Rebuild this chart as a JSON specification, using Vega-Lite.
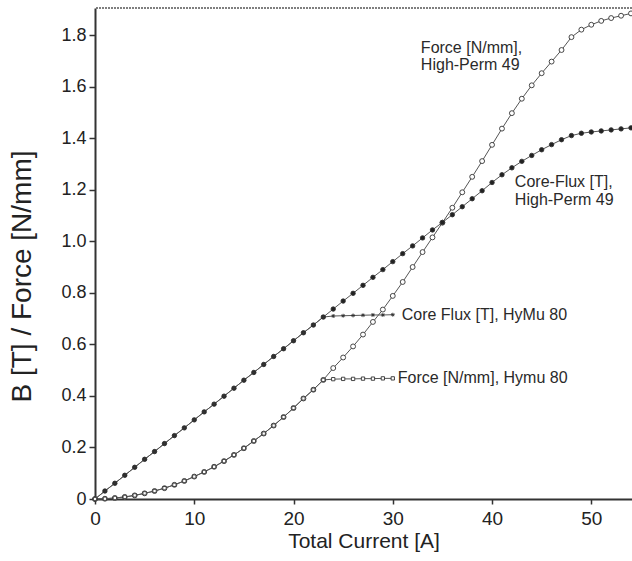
{
  "$schema": "https://vega.github.io/schema/vega-lite/v6.json",
  "width": 537,
  "height": 491,
  "autosize": {"type": "none"},
  "padding": {"left": 95, "top": 8, "right": 0, "bottom": 62},
  "background": "white",
  "config": {
    "view": {"stroke": null},
    "font": "Liberation Sans",
    "axis": {
      "grid": false,
      "domainColor": "#333",
      "domainWidth": 2,
      "tickColor": "#333",
      "tickWidth": 1.5,
      "labelFont": "Liberation Sans",
      "labelColor": "#222",
      "titleFont": "Liberation Sans",
      "titleColor": "#222",
      "titleFontWeight": "normal"
    }
  },
  "datasets": {
    "curves": [
      {"s": "F49", "x": 0, "y": 0}, {"s": "F49", "x": 1, "y": 0.001}, {"s": "F49", "x": 2, "y": 0.004}, {"s": "F49", "x": 3, "y": 0.008}, {"s": "F49", "x": 4, "y": 0.014}, {"s": "F49", "x": 5, "y": 0.022}, {"s": "F49", "x": 6, "y": 0.031}, {"s": "F49", "x": 7, "y": 0.042}, {"s": "F49", "x": 8, "y": 0.055}, {"s": "F49", "x": 9, "y": 0.07}, {"s": "F49", "x": 10, "y": 0.087}, {"s": "F49", "x": 11, "y": 0.105}, {"s": "F49", "x": 12, "y": 0.125}, {"s": "F49", "x": 13, "y": 0.147}, {"s": "F49", "x": 14, "y": 0.171}, {"s": "F49", "x": 15, "y": 0.197}, {"s": "F49", "x": 16, "y": 0.225}, {"s": "F49", "x": 17, "y": 0.254}, {"s": "F49", "x": 18, "y": 0.285}, {"s": "F49", "x": 19, "y": 0.318}, {"s": "F49", "x": 20, "y": 0.353}, {"s": "F49", "x": 21, "y": 0.39}, {"s": "F49", "x": 22, "y": 0.424}, {"s": "F49", "x": 23, "y": 0.462}, {"s": "F49", "x": 24, "y": 0.508}, {"s": "F49", "x": 25, "y": 0.549}, {"s": "F49", "x": 26, "y": 0.592}, {"s": "F49", "x": 27, "y": 0.638}, {"s": "F49", "x": 28, "y": 0.687}, {"s": "F49", "x": 29, "y": 0.735}, {"s": "F49", "x": 30, "y": 0.788}, {"s": "F49", "x": 31, "y": 0.842}, {"s": "F49", "x": 32, "y": 0.9}, {"s": "F49", "x": 33, "y": 0.958}, {"s": "F49", "x": 34, "y": 1.015}, {"s": "F49", "x": 35, "y": 1.072}, {"s": "F49", "x": 36, "y": 1.13}, {"s": "F49", "x": 37, "y": 1.19}, {"s": "F49", "x": 38, "y": 1.25}, {"s": "F49", "x": 39, "y": 1.311}, {"s": "F49", "x": 40, "y": 1.374}, {"s": "F49", "x": 41, "y": 1.437}, {"s": "F49", "x": 42, "y": 1.497}, {"s": "F49", "x": 43, "y": 1.553}, {"s": "F49", "x": 44, "y": 1.605}, {"s": "F49", "x": 45, "y": 1.652}, {"s": "F49", "x": 46, "y": 1.697}, {"s": "F49", "x": 47, "y": 1.742}, {"s": "F49", "x": 48, "y": 1.792}, {"s": "F49", "x": 49, "y": 1.821}, {"s": "F49", "x": 50, "y": 1.84}, {"s": "F49", "x": 51, "y": 1.855}, {"s": "F49", "x": 52, "y": 1.866}, {"s": "F49", "x": 53, "y": 1.875}, {"s": "F49", "x": 54, "y": 1.884},
      {"s": "B49", "x": 0, "y": 0}, {"s": "B49", "x": 1, "y": 0.031}, {"s": "B49", "x": 2, "y": 0.061}, {"s": "B49", "x": 3, "y": 0.092}, {"s": "B49", "x": 4, "y": 0.123}, {"s": "B49", "x": 5, "y": 0.154}, {"s": "B49", "x": 6, "y": 0.184}, {"s": "B49", "x": 7, "y": 0.215}, {"s": "B49", "x": 8, "y": 0.246}, {"s": "B49", "x": 9, "y": 0.276}, {"s": "B49", "x": 10, "y": 0.307}, {"s": "B49", "x": 11, "y": 0.338}, {"s": "B49", "x": 12, "y": 0.368}, {"s": "B49", "x": 13, "y": 0.399}, {"s": "B49", "x": 14, "y": 0.43}, {"s": "B49", "x": 15, "y": 0.461}, {"s": "B49", "x": 16, "y": 0.491}, {"s": "B49", "x": 17, "y": 0.522}, {"s": "B49", "x": 18, "y": 0.553}, {"s": "B49", "x": 19, "y": 0.583}, {"s": "B49", "x": 20, "y": 0.614}, {"s": "B49", "x": 21, "y": 0.645}, {"s": "B49", "x": 22, "y": 0.675}, {"s": "B49", "x": 23, "y": 0.706}, {"s": "B49", "x": 24, "y": 0.737}, {"s": "B49", "x": 25, "y": 0.768}, {"s": "B49", "x": 26, "y": 0.798}, {"s": "B49", "x": 27, "y": 0.829}, {"s": "B49", "x": 28, "y": 0.86}, {"s": "B49", "x": 29, "y": 0.89}, {"s": "B49", "x": 30, "y": 0.921}, {"s": "B49", "x": 31, "y": 0.952}, {"s": "B49", "x": 32, "y": 0.982}, {"s": "B49", "x": 33, "y": 1.013}, {"s": "B49", "x": 34, "y": 1.044}, {"s": "B49", "x": 35, "y": 1.073}, {"s": "B49", "x": 36, "y": 1.103}, {"s": "B49", "x": 37, "y": 1.134}, {"s": "B49", "x": 38, "y": 1.165}, {"s": "B49", "x": 39, "y": 1.196}, {"s": "B49", "x": 40, "y": 1.228}, {"s": "B49", "x": 41, "y": 1.258}, {"s": "B49", "x": 42, "y": 1.285}, {"s": "B49", "x": 43, "y": 1.31}, {"s": "B49", "x": 44, "y": 1.333}, {"s": "B49", "x": 45, "y": 1.355}, {"s": "B49", "x": 46, "y": 1.375}, {"s": "B49", "x": 47, "y": 1.394}, {"s": "B49", "x": 48, "y": 1.41}, {"s": "B49", "x": 49, "y": 1.419}, {"s": "B49", "x": 50, "y": 1.424}, {"s": "B49", "x": 51, "y": 1.428}, {"s": "B49", "x": 52, "y": 1.432}, {"s": "B49", "x": 53, "y": 1.436}, {"s": "B49", "x": 54, "y": 1.44},
      {"s": "B80", "x": 0, "y": 0}, {"s": "B80", "x": 1, "y": 0.031}, {"s": "B80", "x": 2, "y": 0.061}, {"s": "B80", "x": 3, "y": 0.092}, {"s": "B80", "x": 4, "y": 0.123}, {"s": "B80", "x": 5, "y": 0.154}, {"s": "B80", "x": 6, "y": 0.184}, {"s": "B80", "x": 7, "y": 0.215}, {"s": "B80", "x": 8, "y": 0.246}, {"s": "B80", "x": 9, "y": 0.276}, {"s": "B80", "x": 10, "y": 0.307}, {"s": "B80", "x": 11, "y": 0.338}, {"s": "B80", "x": 12, "y": 0.368}, {"s": "B80", "x": 13, "y": 0.399}, {"s": "B80", "x": 14, "y": 0.43}, {"s": "B80", "x": 15, "y": 0.461}, {"s": "B80", "x": 16, "y": 0.491}, {"s": "B80", "x": 17, "y": 0.522}, {"s": "B80", "x": 18, "y": 0.553}, {"s": "B80", "x": 19, "y": 0.583}, {"s": "B80", "x": 20, "y": 0.614}, {"s": "B80", "x": 21, "y": 0.645}, {"s": "B80", "x": 22, "y": 0.675}, {"s": "B80", "x": 23, "y": 0.706}, {"s": "B80", "x": 24, "y": 0.71}, {"s": "B80", "x": 25, "y": 0.711}, {"s": "B80", "x": 26, "y": 0.712}, {"s": "B80", "x": 27, "y": 0.713}, {"s": "B80", "x": 28, "y": 0.714}, {"s": "B80", "x": 29, "y": 0.714}, {"s": "B80", "x": 30, "y": 0.715},
      {"s": "F80", "x": 0, "y": 0}, {"s": "F80", "x": 1, "y": 0.001}, {"s": "F80", "x": 2, "y": 0.004}, {"s": "F80", "x": 3, "y": 0.008}, {"s": "F80", "x": 4, "y": 0.014}, {"s": "F80", "x": 5, "y": 0.022}, {"s": "F80", "x": 6, "y": 0.031}, {"s": "F80", "x": 7, "y": 0.042}, {"s": "F80", "x": 8, "y": 0.055}, {"s": "F80", "x": 9, "y": 0.07}, {"s": "F80", "x": 10, "y": 0.087}, {"s": "F80", "x": 11, "y": 0.105}, {"s": "F80", "x": 12, "y": 0.125}, {"s": "F80", "x": 13, "y": 0.147}, {"s": "F80", "x": 14, "y": 0.171}, {"s": "F80", "x": 15, "y": 0.197}, {"s": "F80", "x": 16, "y": 0.225}, {"s": "F80", "x": 17, "y": 0.254}, {"s": "F80", "x": 18, "y": 0.285}, {"s": "F80", "x": 19, "y": 0.318}, {"s": "F80", "x": 20, "y": 0.353}, {"s": "F80", "x": 21, "y": 0.39}, {"s": "F80", "x": 22, "y": 0.424}, {"s": "F80", "x": 23, "y": 0.462}, {"s": "F80", "x": 24, "y": 0.465}, {"s": "F80", "x": 25, "y": 0.466}, {"s": "F80", "x": 26, "y": 0.466}, {"s": "F80", "x": 27, "y": 0.467}, {"s": "F80", "x": 28, "y": 0.467}, {"s": "F80", "x": 29, "y": 0.468}, {"s": "F80", "x": 30, "y": 0.468}
    ],
    "labels": [
      {"x": 32.83, "y": 1.731, "t": "Force [N/mm],"},
      {"x": 32.83, "y": 1.664, "t": "High-Perm 49"},
      {"x": 42.3, "y": 1.21, "t": "Core-Flux [T],"},
      {"x": 42.3, "y": 1.14, "t": "High-Perm 49"},
      {"x": 30.9, "y": 0.694, "t": "Core Flux [T], HyMu 80"},
      {"x": 30.5, "y": 0.45, "t": "Force [N/mm], Hymu 80"}
    ],
    "frame": [{}]
  },
  "layer": [
    {
      "data": {"name": "frame"},
      "mark": {"type": "rule", "stroke": "#555", "strokeWidth": 1.5, "strokeDash": [2, 1], "clip": false},
      "encoding": {
        "y": {"datum": 1.905, "type": "quantitative"}
      }
    },
    {
      "data": {"name": "curves"},
      "mark": {"type": "line", "stroke": "#555", "strokeWidth": 1, "clip": false},
      "encoding": {
        "x": {"field": "x", "type": "quantitative", "scale": {"domain": [0, 54.1], "nice": false},
          "axis": {"values": [0, 10, 20, 30, 40, 50], "labelFontSize": 19, "tickSize": 5, "labelPadding": 5, "labelFlush": false,
            "title": "Total Current [A]", "titleFontSize": 21, "titleBaseline": "alphabetic", "titleY": 48}},
        "y": {"field": "y", "type": "quantitative", "scale": {"domain": [0, 1.905], "nice": false},
          "axis": {"values": [0, 0.2, 0.4, 0.6, 0.8, 1.0, 1.2, 1.4, 1.6, 1.8], "labelExpr": "datum.value == 0 ? '0' : format(datum.value, '.1f')",
            "labelFontSize": 18, "tickSize": 6, "labelPadding": 3, "labelFlush": false,
            "title": "B [T] / Force [N/mm]", "titleFontSize": 28, "titleBaseline": "alphabetic", "titleX": -65, "titleY": 268}},
        "detail": {"field": "s"},
        "order": {"field": "x", "type": "quantitative"}
      }
    },
    {
      "data": {"name": "curves"},
      "mark": {"type": "point", "stroke": "#333", "strokeWidth": 0.9, "opacity": 1, "clip": false},
      "encoding": {
        "x": {"field": "x", "type": "quantitative"},
        "y": {"field": "y", "type": "quantitative"},
        "shape": {"field": "s", "type": "nominal", "legend": null,
          "scale": {"domain": ["F49", "B49", "B80", "F80"],
            "range": ["circle", "circle", "M-1,0L1,0M0,-1L0,1M-0.7,-0.7L0.7,0.7M-0.7,0.7L0.7,-0.7", "square"]}},
        "fill": {"field": "s", "type": "nominal", "legend": null,
          "scale": {"domain": ["F49", "B49", "B80", "F80"], "range": ["white", "#222", "#222", "white"]}},
        "size": {"field": "s", "type": "nominal", "legend": null,
          "scale": {"domain": ["F49", "B49", "B80", "F80"], "range": [24, 11, 40, 18]}}
      }
    },
    {
      "data": {"name": "labels"},
      "mark": {"type": "text", "align": "left", "baseline": "alphabetic", "font": "Liberation Sans", "fontSize": 16, "fill": "#2a2a2a"},
      "encoding": {
        "x": {"field": "x", "type": "quantitative"},
        "y": {"field": "y", "type": "quantitative"},
        "text": {"field": "t"}
      }
    }
  ]
}
